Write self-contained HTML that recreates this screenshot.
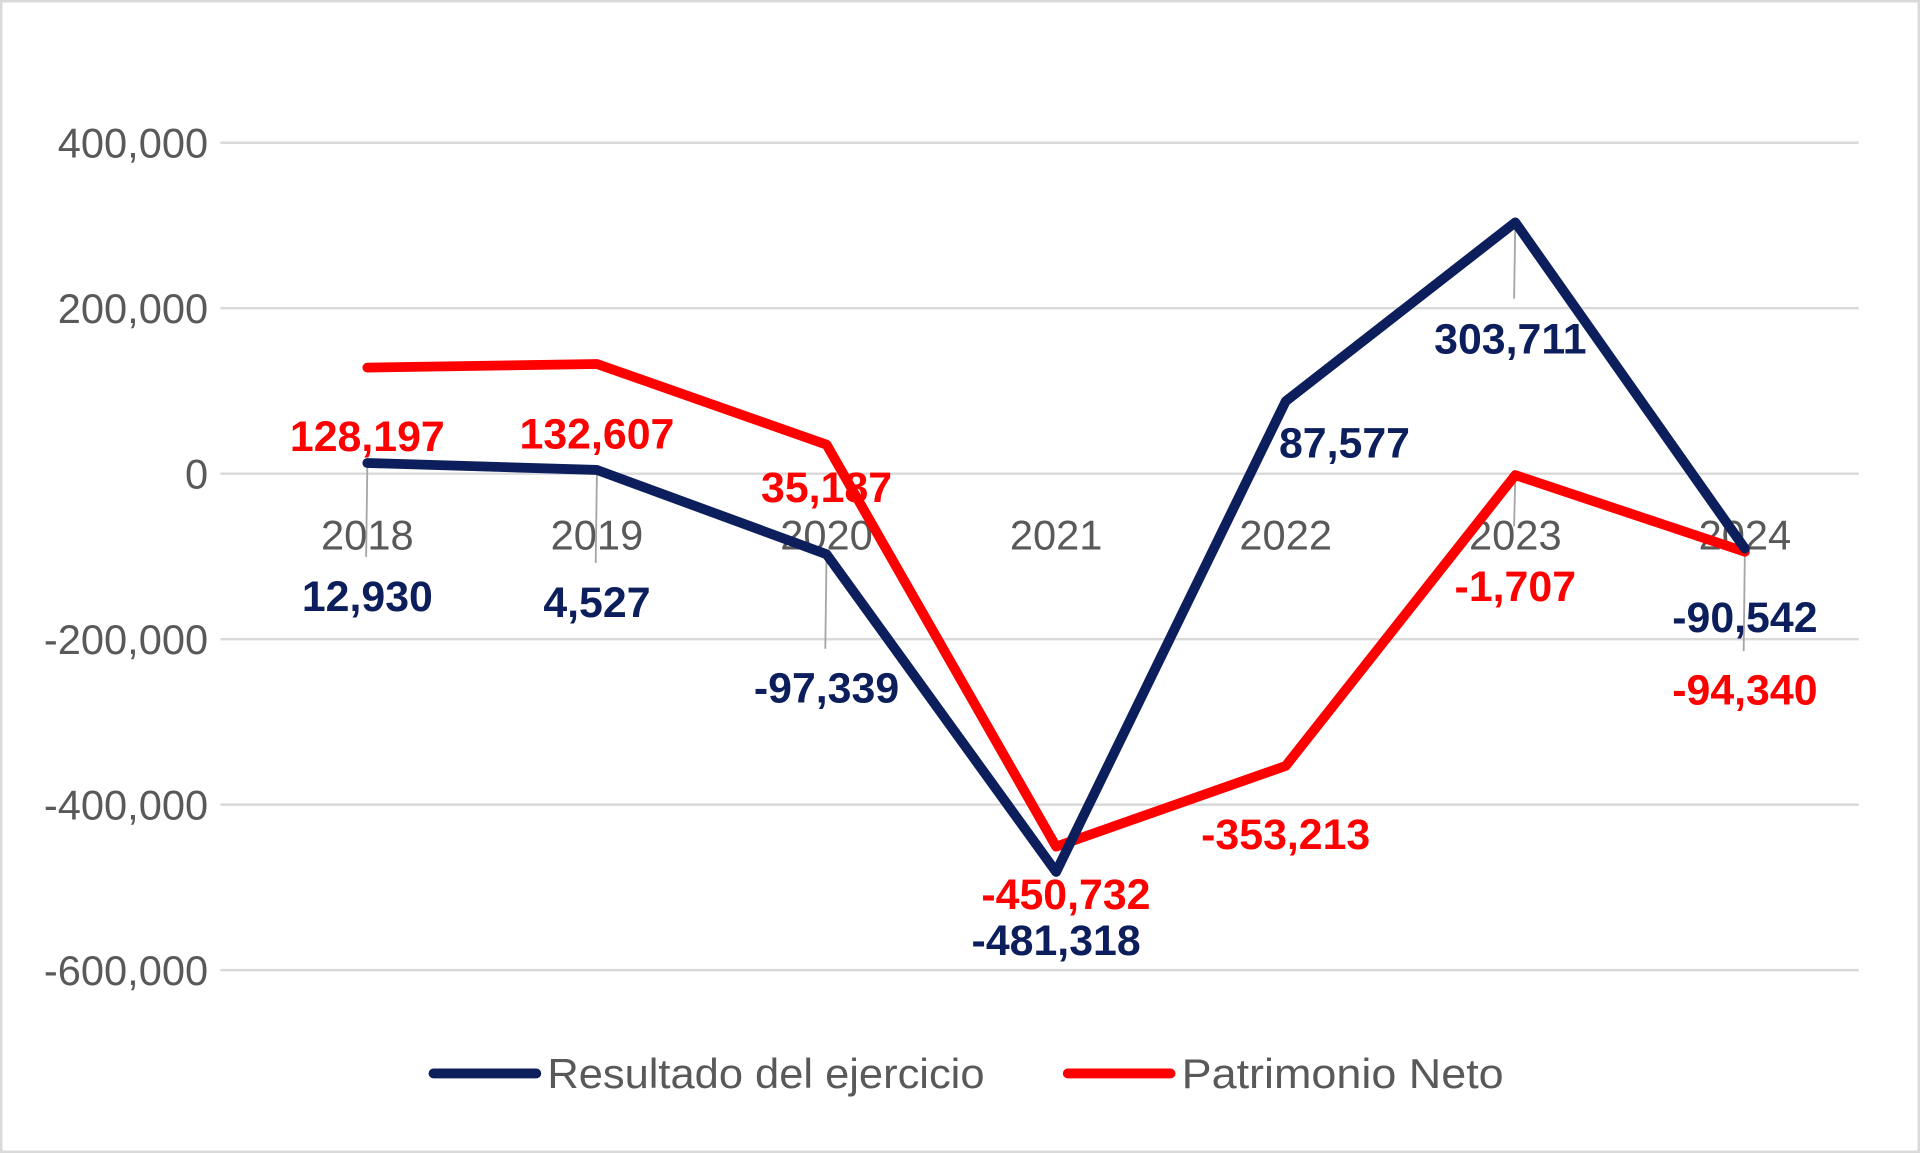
<!DOCTYPE html>
<html><head><meta charset="utf-8"><style>
html,body{margin:0;padding:0;background:#fff;}
svg{display:block;}
text{font-family:"Liberation Sans",sans-serif;}
</style></head>
<body>
<svg id="chart" width="1920" height="1153" viewBox="0 0 1568 942" preserveAspectRatio="none" xmlns="http://www.w3.org/2000/svg">
<rect x="1" y="1" width="1566" height="940" fill="#fff" stroke="#d9d9d9" stroke-width="2"/>
<g id="grid"></g><g id="lines"></g><g id="labels"></g>
<g>
<line x1="354" y1="877" x2="438" y2="877" stroke="#0c1f5c" stroke-width="8" stroke-linecap="round"/>
<text x="447" y="889" font-size="34" textLength="357" lengthAdjust="spacingAndGlyphs" fill="#595959">Resultado del ejercicio</text>
<line x1="872" y1="877" x2="956" y2="877" stroke="#ff0000" stroke-width="8" stroke-linecap="round"/>
<text x="965" y="889" font-size="34" textLength="263" lengthAdjust="spacingAndGlyphs" fill="#595959">Patrimonio Neto</text>
</g>
</svg>
<script>
const categories=["2018","2019","2020","2021","2022","2023","2024"];
const resultado=[12930,4527,-97339,-481318,87577,303711,-90542];
const patrimonio=[128197,132607,35187,-450732,-353213,-1707,-94340];
const yTicks=[400000,200000,0,-200000,-400000,-600000];
const yTickLabels=["400,000","200,000","0","-200,000","-400,000","-600,000"];
const NS="http://www.w3.org/2000/svg";
const y=v=>387-v*(135.2/200000);
const x=i=>300+i*187.5;
function mk(tag,attrs,parent,txt){const e=document.createElementNS(NS,tag);for(const k in attrs)e.setAttribute(k,attrs[k]);if(txt!==undefined)e.textContent=txt;parent.appendChild(e);return e;}
const grid=document.getElementById('grid'),lines=document.getElementById('lines'),labels=document.getElementById('labels');
yTicks.forEach((t,i)=>{
 const l=mk('line',{x1:180,x2:1518,y1:y(t),y2:y(t),stroke:'#d9d9d9','stroke-width':2},grid);
 
 
 const tx=mk('text',{x:170,y:y(t)+12,'text-anchor':'end','font-size':34,fill:'#595959'},grid,yTickLabels[i]);
 
 
});
categories.forEach((c,i)=>{
 const tx=mk('text',{x:x(i),y:449,'text-anchor':'middle','font-size':34,fill:'#595959'},grid,c);
 
 
});
const leaders=[[resultado,0,455],[resultado,1,460],[resultado,2,530],[resultado,5,244],[resultado,6,532],[patrimonio,5,430]];
leaders.forEach(([s,i,end])=>{
 const l=mk('line',{x1:x(i),x2:x(i)-1,y1:y(s[i]),y2:end,stroke:'#a6a6a6','stroke-width':1.5},grid);
 
 
});
function series(data,color,name){
 const p=mk('polyline',{points:data.map((v,i)=>x(i)+','+y(v)).join(' '),fill:'none',stroke:color,'stroke-width':8,'stroke-linejoin':'round','stroke-linecap':'round'},lines);
 
 
}
series(patrimonio,'#ff0000','patrimonio-line');
series(resultado,'#0c1f5c','resultado-line');
const blueOff=[[0,109],[0,108],[0,109],[0,56],[48,34],[-4,95],[0,56]];
const redOff=[[0,56],[0,57],[0,35],[8,39],[0,56],[0,91],[0,113]];
function lab(data,off,color,name){
 data.forEach((v,i)=>{
  const t=mk('text',{x:x(i)+off[i][0],y:y(v)+off[i][1]+12,'text-anchor':'middle','font-size':35,'font-weight':'bold',fill:color},labels,v.toLocaleString('en-US'));
  
  
 });
}
lab(resultado,blueOff,'#0c1f5c','resultado-data-label');
lab(patrimonio,redOff,'#ff0000','patrimonio-data-label');
</script>
</body></html>
